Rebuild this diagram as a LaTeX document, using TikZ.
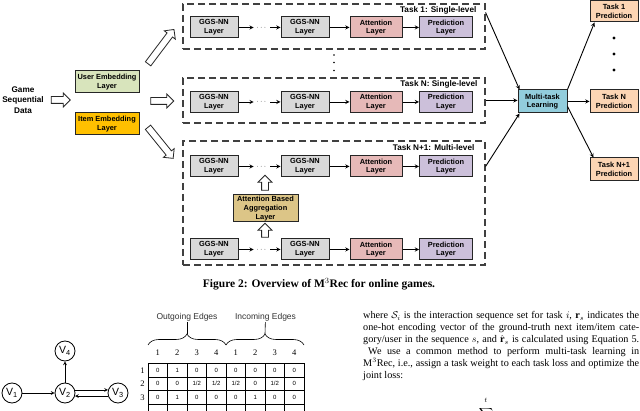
\documentclass[tikz,border=0pt]{standalone}
\usepackage{amsmath}
\usepackage{fontspec}
\setmainfont{Liberation Serif}
\setsansfont{Liberation Sans}
\usetikzlibrary{arrows,shapes.arrows,decorations.pathreplacing}
\definecolor{ggsgray}{HTML}{D9D9D9}
\definecolor{attpink}{HTML}{E6B9B8}
\definecolor{predlilac}{HTML}{CCC0DA}
\definecolor{usergreen}{HTML}{D8E4BC}
\definecolor{itemgold}{HTML}{FFC000}
\definecolor{aggtan}{HTML}{DCC587}
\definecolor{mtlblue}{HTML}{92CDDC}
\definecolor{taskpeach}{HTML}{FCD5B4}
\tikzstyle{arrow} = [line width=0.9pt,->,>=stealth]
\tikzstyle{thinarrow} = [line width=0.7pt,->,>=stealth]
\tikzstyle{box}=[draw=black!85, line width=1pt, minimum width=48pt, minimum height=21pt, inner sep=1pt, align=center, font=\sffamily\bfseries\fontsize{7.4}{8.7}\selectfont]
\tikzstyle{taskbox}=[draw=black!75, line width=1.1pt, dash pattern=on 7pt off 4pt, inner sep=0pt]
\tikzstyle{tasklabel}=[anchor=east, inner sep=0pt, font=\sffamily\bfseries\fontsize{8.2}{9}\selectfont]
\tikzstyle{hollow}=[single arrow, draw=black!85, fill=white, line width=0.8pt, inner sep=3pt, single arrow head extend=3.5pt, minimum width=13pt]
\tikzstyle{ellip}=[inner sep=2.5pt, font=\bfseries\fontsize{7.4}{8.7}\selectfont]
\tikzstyle{vertex}=[circle, draw, line width=0.8pt, minimum size=20pt, inner sep=0pt, font=\sffamily\fontsize{10.5}{12}\selectfont]
\tikzstyle{hdr}=[inner sep=0pt, font=\fontsize{8.5}{9}\selectfont]
\tikzstyle{cell}=[inner sep=0pt, font=\sffamily\fontsize{6}{7}\selectfont]
\tikzstyle{edgelabel}=[inner sep=1pt, text=black!80, font=\sffamily\fontsize{8.5}{10}\selectfont]
\tikzstyle{bodyline}=[anchor=base west, inner sep=0pt, font=\fontsize{10.2}{11.8}\selectfont]

\begin{document}
\begin{tikzpicture}[x=1pt,y=-1pt]
    \useasboundingbox (0,0) rectangle (640,411);
    \fill [white] (0,0) rectangle (640,411);
    % input and embeddings
    \node (data) [align=center, font=\sffamily\bfseries\fontsize{8.2}{10.5}\selectfont] at (23,100) {Game\\Sequential\\Data};
    \node (in)   [hollow, minimum height=19pt] at (59,100) {};
    \node (ue)   [box, fill=usergreen, minimum width=64pt, minimum height=22pt] at (107,82) {User Embedding\\Layer};
    \node (ie)   [box, fill=itemgold, minimum width=64pt, minimum height=22pt, node distance=42pt, below of=ue] {Item Embedding\\Layer};
    \node (up)   [hollow, minimum height=43pt, rotate=53] at (160,48) {};
    \node (mid)  [hollow, minimum height=23pt] at (160.5,101) {};
    \node (down) [hollow, minimum height=40pt, rotate=-51] at (159.5,141.5) {};

    % task boxes
    \node (t1) [taskbox, minimum width=302pt, minimum height=45pt] at (334,26.5) {};
    \node (t2) [taskbox, minimum width=302pt, minimum height=45pt] at (334,100.5) {};
    \node (t3) [taskbox, minimum width=302pt, minimum height=124pt] at (334,203) {};
    \node (l1) [tasklabel] at ([xshift=-9pt,yshift=-7pt]t1.north east) {Task 1: Single-level};
    \node (l2) [tasklabel] at ([xshift=-8pt,yshift=-7pt]t2.north east) {Task N: Single-level};
    \node (l3) [tasklabel] at ([xshift=-11pt,yshift=-7pt]t3.north east) {Task N+1: Multi-level};
    \fill (334,55) circle (0.9pt) (334,62.5) circle (0.9pt) (334,70.5) circle (0.9pt);

    % task 1
    \node (g1a) [box, fill=ggsgray] at (214,27.5) {GGS-NN\\Layer};
    \node (d1)  [ellip, node distance=48pt, right of=g1a] {$\cdots$};
    \node (g1b) [box, fill=ggsgray, node distance=43pt, right of=d1] {GGS-NN\\Layer};
    \node (a1)  [box, fill=attpink, minimum width=52pt, node distance=71pt, right of=g1b] {Attention\\Layer};
    \node (p1)  [box, fill=predlilac, minimum width=53pt, node distance=70pt, right of=a1] {Prediction\\Layer};
    \draw [arrow] (g1a) -- (d1);
    \draw [arrow] (d1) -- (g1b);
    \draw [arrow] (g1b) -- (a1);
    \draw [arrow] (a1) -- (p1);

    % task N
    \node (g2a) [box, fill=ggsgray, node distance=74.5pt, below of=g1a] {GGS-NN\\Layer};
    \node (d2)  [ellip, node distance=48pt, right of=g2a] {$\cdots$};
    \node (g2b) [box, fill=ggsgray, node distance=43pt, right of=d2] {GGS-NN\\Layer};
    \node (a2)  [box, fill=attpink, minimum width=52pt, node distance=71pt, right of=g2b] {Attention\\Layer};
    \node (p2)  [box, fill=predlilac, minimum width=53pt, node distance=70pt, right of=a2] {Prediction\\Layer};
    \draw [arrow] (g2a) -- (d2);
    \draw [arrow] (d2) -- (g2b);
    \draw [arrow] (g2b) -- (a2);
    \draw [arrow] (a2) -- (p2);

    % task N+1, upper level
    \node (g3a) [box, fill=ggsgray, node distance=64.5pt, below of=g2a] {GGS-NN\\Layer};
    \node (d3)  [ellip, node distance=48pt, right of=g3a] {$\cdots$};
    \node (g3b) [box, fill=ggsgray, node distance=43pt, right of=d3] {GGS-NN\\Layer};
    \node (a3)  [box, fill=attpink, minimum width=52pt, node distance=71pt, right of=g3b] {Attention\\Layer};
    \node (p3)  [box, fill=predlilac, minimum width=53pt, node distance=70pt, right of=a3] {Prediction\\Layer};
    \draw [arrow] (g3a) -- (d3);
    \draw [arrow] (d3) -- (g3b);
    \draw [arrow] (g3b) -- (a3);
    \draw [arrow] (a3) -- (p3);

    % task N+1, lower level
    \node (g4a) [box, fill=ggsgray, node distance=83pt, below of=g3a] {GGS-NN\\Layer};
    \node (d4)  [ellip, node distance=48pt, right of=g4a] {$\cdots$};
    \node (g4b) [box, fill=ggsgray, node distance=43pt, right of=d4] {GGS-NN\\Layer};
    \node (a4)  [box, fill=attpink, minimum width=52pt, node distance=71pt, right of=g4b] {Attention\\Layer};
    \node (p4)  [box, fill=predlilac, minimum width=53pt, node distance=70pt, right of=a4] {Prediction\\Layer};
    \draw [arrow] (g4a) -- (d4);
    \draw [arrow] (d4) -- (g4b);
    \draw [arrow] (g4b) -- (a4);
    \draw [arrow] (a4) -- (p4);

    \node (agg) [box, fill=aggtan, minimum width=65pt, minimum height=27pt] at (265.5,208.5) {Attention Based\\Aggregation\\Layer};
    \node (u1)  [hollow, minimum height=15pt, rotate=90] at (265,184.5) {};
    \node (u2)  [hollow, minimum height=14pt, rotate=90] at (265,232) {};

    % multi-task learning and outputs
    \node (mtl)  [box, fill=mtlblue, minimum width=49pt, minimum height=23pt] at (542.5,101.5) {Multi-task\\Learning};
    \node (outn) [box, fill=taskpeach, minimum height=23pt, node distance=71.5pt, right of=mtl] {Task N\\Prediction};
    \node (out1) [box, fill=taskpeach, node distance=90pt, above of=outn] {Task 1\\Prediction};
    \node (outm) [box, fill=taskpeach, minimum height=23pt, node distance=68pt, below of=outn] {Task N+1\\Prediction};
    \fill (614,38) circle (1.6pt) (614,54) circle (1.6pt) (614,70) circle (1.6pt);
    \draw [arrow] ([yshift=-9pt]t1.north east) -- ([xshift=2pt]mtl.north west);
    \draw [arrow] (t2.east) -- (t2.east -| mtl.west);
    \draw [arrow] (t3.east |- a3.east) -- ([xshift=2pt]mtl.south west);
    \draw [arrow] (mtl.north east) -- ([xshift=5pt]out1.south west);
    \draw [arrow] (mtl.east) -- (outn.west);
    \draw [arrow] ([yshift=-5pt]mtl.east) -- ([xshift=4pt]outm.north west);

    \node (cap) [font=\bfseries\fontsize{11.5}{13}\selectfont] at (319,284) {Figure 2: Overview of M$^{3}$Rec for online games.};

    % graph
    \node (v1) [vertex] at (12,393) {V\textsubscript{1}};
    \node (v2) [vertex, node distance=53pt, right of=v1] {V\textsubscript{2}};
    \node (v3) [vertex, node distance=53pt, right of=v2] {V\textsubscript{3}};
    \node (v4) [vertex, node distance=42pt, above of=v2] {V\textsubscript{4}};
    \draw [thinarrow] (v1) -- (v2);
    \draw [thinarrow] (v2) -- (v4);
    \draw [thinarrow] (v2.17) -- (v3.163);
    \draw [thinarrow] (v3.197) -- (v2.-17);

    % connection matrix
    \node (oe) [edgelabel] at (187,317) {Outgoing Edges};
    \node (ie2) [edgelabel] at (265.5,317) {Incoming Edges};
    \coordinate (ob) at (187,334);
    \coordinate (ib) at (265,334);
    \draw [line width=0.6pt, decorate, decoration={brace, amplitude=11pt}] (148,345) -- (226,345);
    \draw [line width=0.6pt, decorate, decoration={brace, amplitude=11pt}] (226,345) -- (304,345);
    \draw [line width=0.6pt] (oe) -- (ob);
    \draw [line width=0.6pt] (ie2) -- (ib);
    \foreach \c [count=\i] in {1,2,3,4,1,2,3,4}
        \node (h\i) [hdr] at (138.25+19.5*\i,353) {\c};
    \foreach \r in {1,2,3}
        \node (r\r) [hdr] at (142.5,356.75+13.5*\r) {\r};
    \foreach \i in {0,...,8}
        \draw [line width=0.9pt] (148+19.5*\i,363.5) -- (148+19.5*\i,411);
    \foreach \j in {0,...,3}
        \draw [line width=0.9pt] (148,363.5+13.5*\j) -- (304,363.5+13.5*\j);
    \foreach \row [count=\j] in {{0,1,0,0,0,0,0,0},{0,0,1/2,1/2,1/2,0,1/2,0},{0,1,0,0,0,1,0,0}}
        \foreach \v [count=\i] in \row
            \node (m\j\i) [cell] at (138.25+19.5*\i,356.75+13.5*\j) {\v};

    % text column
    \node (txt1) [bodyline] at (363,319) {\makebox[276pt][s]{where $\mathcal{S}_i$ is the interaction sequence set for task $i$, $\mathbf{r}_s$ indicates the}};
    \node (txt2) [bodyline] at (363,331) {\makebox[276pt][s]{one-hot encoding vector of the ground-truth next item/item cate-}};
    \node (txt3) [bodyline] at (363,343) {\makebox[276pt][s]{gory/user in the sequence $s$, and $\hat{\mathbf{r}}_s$ is calculated using Equation 5.}};
    \node (txt4) [bodyline] at (368,354.8) {\makebox[271pt][s]{We use a common method to perform multi-task learning in}};
    \node (txt5) [bodyline] at (363,366.6) {\makebox[276pt][s]{M$^3$Rec, i.e., assign a task weight to each task loss and optimize the}};
    \node (txt6) [bodyline] at (363,378.4) {joint loss:};
    \node (lim) [inner sep=0pt, font=\fontsize{7}{8}\selectfont] at (486,400.5) {$t$};
    \node (sum) [anchor=north, inner sep=0pt] at (486,407) {$\displaystyle\sum$};
\end{tikzpicture}
\end{document}
